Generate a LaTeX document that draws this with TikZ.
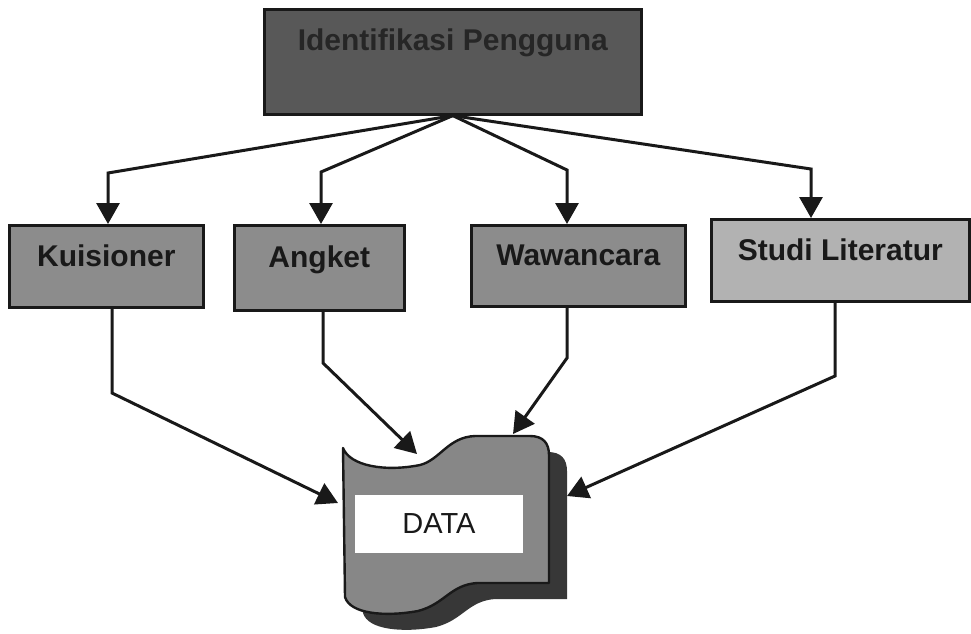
\documentclass[tikz,border=0pt]{standalone}
\usepackage{fontspec}
\setmainfont{Liberation Sans}
\usetikzlibrary{arrows.meta}
\definecolor{topfill}{RGB}{88,88,88}
\definecolor{toptext}{RGB}{38,38,38}
\definecolor{midfill}{RGB}{140,140,140}
\definecolor{litefill}{RGB}{178,178,178}
\definecolor{datafill}{RGB}{135,135,135}
\definecolor{shadowgray}{RGB}{55,55,55}
\definecolor{ink}{RGB}{25,25,25}
\begin{document}
\begin{tikzpicture}[x=1pt,y=-1pt,
  box/.style={draw=ink, line width=2.6pt, inner sep=0pt, anchor=north west,
    font=\fontsize{30}{34}\selectfont\bfseries, text=ink,
    text height=10pt, text depth=10pt},
  arr/.style={draw=ink, line width=3pt, line join=miter,
    -{Triangle[length=21pt,width=23pt]}}]
\useasboundingbox (0,0) rectangle (971,633);

% top box
\node[box, fill=topfill, text=toptext, minimum width=377pt, minimum height=105pt,
  text height=0pt, text depth=22pt] (top) at (263,8) {Identifikasi Pengguna};

% middle boxes
\node[box, fill=midfill, minimum width=194pt, minimum height=82pt] (k) at (8,224) {Kuisioner};
\node[box, fill=midfill, minimum width=170pt, minimum height=85pt] (a) at (233,224) {Angket};
\node[box, fill=midfill, minimum width=214pt, minimum height=81pt] (w) at (470,224) {Wawancara};
\node[box, fill=litefill, minimum width=258pt, minimum height=82pt] (s) at (710,218) {Studi Literatur};

% DATA tape shape: shadow then front
\begin{scope}[shift={(18,16)}]
\fill[shadowgray] (343,448) .. controls (350,466) and (385,472) .. (420,465)
  .. controls (440,460) and (448,437) .. (475,436) -- (530,436)
  .. controls (543,436) and (549,443) .. (549,455) -- (549,583)
  -- (477,583) .. controls (450,585) and (445,604) .. (418,611)
  .. controls (385,617) and (350,614) .. (345,597) -- cycle;
\end{scope}
\draw[ink, line width=2.4pt, fill=datafill, line join=round]
  (343,448) .. controls (350,466) and (385,472) .. (420,465)
  .. controls (440,460) and (448,437) .. (475,436) -- (530,436)
  .. controls (543,436) and (549,443) .. (549,455) -- (549,583)
  -- (477,583) .. controls (450,585) and (445,604) .. (418,611)
  .. controls (385,617) and (350,614) .. (345,597) -- cycle;
\node[fill=white, minimum width=168pt, minimum height=58pt, inner sep=0pt,
  font=\fontsize{29}{34}\selectfont, text=ink] (data) at (439,524) {DATA};

% points on the DATA shape
\coordinate (dk) at (338,503);
\coordinate (da) at (417,454);
\coordinate (dw) at (513,434);
\coordinate (ds) at (567,496);

% connectors from top box
\coordinate (kb) at (108,173);
\coordinate (ab) at (321,172);
\coordinate (wb) at (567,170);
\coordinate (sb) at (811,169);
\draw[arr] (top.south) -- (kb) -- (kb |- k.north);
\draw[arr] (top.south) -- (ab) -- (ab |- a.north);
\draw[arr] (top.south) -- (wb) -- (wb |- w.north);
\draw[arr] (top.south) -- (sb) -- (sb |- s.north);

% connectors to DATA
\coordinate (kd) at (112,393);
\coordinate (ad) at (323,363);
\coordinate (wd) at (567,358);
\coordinate (sd) at (835,376);
\draw[arr] (kd |- k.south) -- (kd) -- (dk);
\draw[arr] (ad |- a.south) -- (ad) -- (da);
\draw[arr] (wd |- w.south) -- (wd) -- (dw);
\draw[arr] (sd |- s.south) -- (sd) -- (ds);
\end{tikzpicture}
\end{document}
